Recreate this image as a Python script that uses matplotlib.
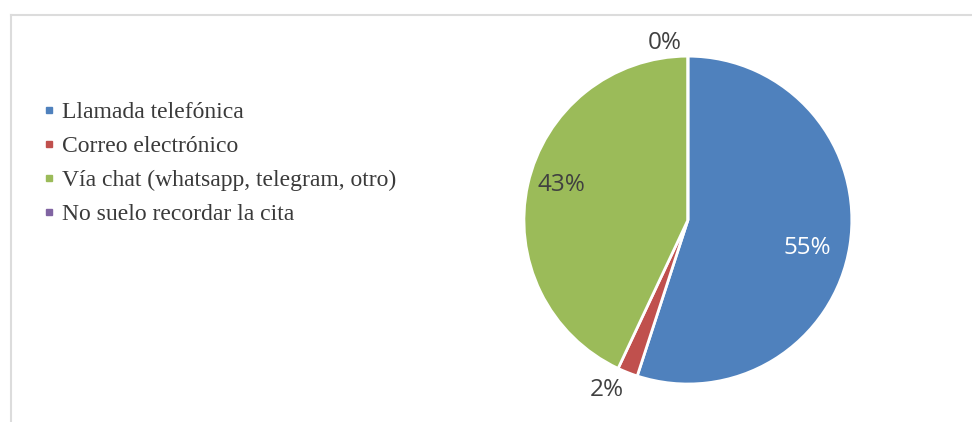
import matplotlib.pyplot as plt
from matplotlib.lines import Line2D
import numpy as np

# Medio utilizado para recordar la cita
categorias = ['Llamada telefónica', 'Correo electrónico',
              'Vía chat (whatsapp, telegram, otro)', 'No suelo recordar la cita']
porcentajes = [55, 2, 43, 0]
colores = ['#4F81BD', '#C0504D', '#9BBB59', '#8064A2']

fig = plt.figure(figsize=(9.72, 4.22), dpi=100)

# marco gris del área del gráfico
fig.add_artist(Line2D([0.011, 1.0], [0.964, 0.964], color='#dcdcdc', lw=1.5))
fig.add_artist(Line2D([0.011, 0.011], [0.0, 0.964], color='#dcdcdc', lw=1.5))

ax = fig.add_axes([0.539, 0.090, 0.3374, 0.777])
wedges, _ = ax.pie(porcentajes, colors=colores, startangle=90, counterclock=False,
                   wedgeprops=dict(edgecolor='white', linewidth=2))
ax.set_xlim(-1.0, 1.0)
ax.set_ylim(-1.0, 1.0)
ax.set_aspect('equal')

# etiquetas de porcentaje: dentro de los sectores grandes, fuera de los pequeños
radios = [0.75, 1.15, 0.80, 1.08]
giros = [-4, -4, -3, 0]  # pequeño desplazamiento angular de cada etiqueta
colores_texto = ['white', '#404040', '#404040', '#404040']
for w, p, r, g, c in zip(wedges, porcentajes, radios, giros, colores_texto):
    ang = np.deg2rad((w.theta1 + w.theta2) / 2 + g)
    x, y = r * np.cos(ang), r * np.sin(ang)
    ha = 'center'
    if p == 0:
        x -= 0.04
        ha = 'right'
    ax.text(x, y, f'{p}%', ha=ha, va='center', color=c,
            fontsize=17.5, family='Open Sans')

handles = [Line2D([], [], marker='s', linestyle='', markersize=5,
                  markerfacecolor=c, markeredgecolor=c) for c in colores]
fig.legend(handles, categorias, loc='upper left', bbox_to_anchor=(0.032, 0.787),
           frameon=False, prop=dict(family='Liberation Serif', size=17),
           handlelength=0.5, handletextpad=0.3, labelspacing=0.53, borderpad=0,
           labelcolor='#3a3a3a')

fig.savefig('out.png', dpi=100)
